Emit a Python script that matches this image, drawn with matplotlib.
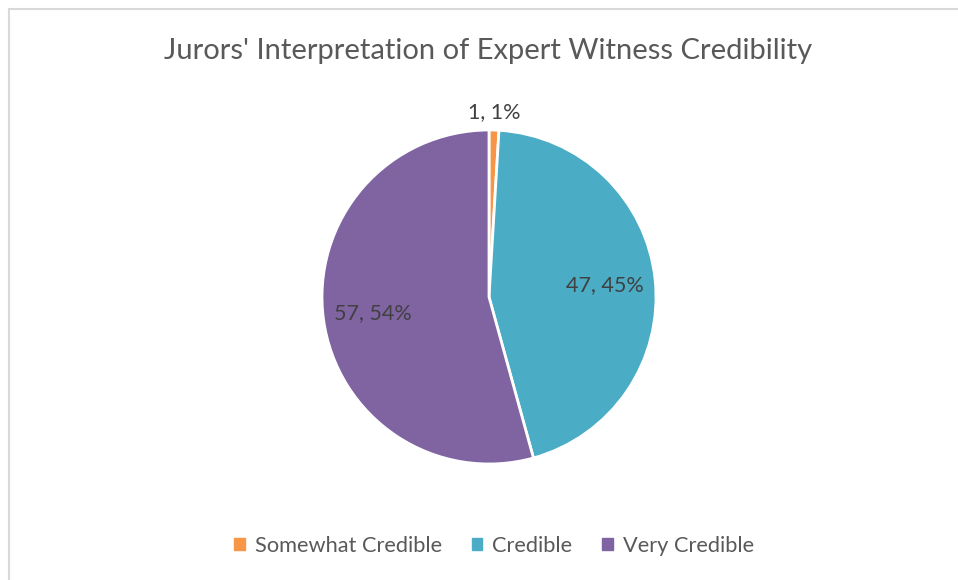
import matplotlib
matplotlib.use("Agg")
import matplotlib.pyplot as plt
import matplotlib.patches as mpatches
import numpy as np

categories = ["Somewhat Credible", "Credible", "Very Credible"]
values = [1, 47, 57]
colors = ["#F79646", "#4BACC6", "#8064A2"]
title = "Jurors' Interpretation of Expert Witness Credibility"

W, H = 958, 580
fig = plt.figure(figsize=(W / 100, H / 100), dpi=100)
ax = fig.add_axes([0, 0, 1, 1])

# chart border
border = mpatches.Rectangle((9, -20), W + 20, H - 9 + 20, fill=False,
                            edgecolor="#D9D9D9", linewidth=1.5)
ax.add_patch(border)

cx, cy, r = 489, H - 297, 167
wedges, _ = ax.pie(values, colors=colors, startangle=90, counterclock=False,
                   center=(cx, cy), radius=r, frame=True,
                   wedgeprops=dict(edgecolor="white", linewidth=2))
ax.set_xlim(0, W)
ax.set_ylim(0, H)
ax.set_aspect("equal")
ax.axis("off")

font = "Lato"
total = sum(values)
for w, v in zip(wedges, values):
    mid = np.deg2rad((w.theta1 + w.theta2) / 2)
    pct = round(100 * v / total)
    dist = 1.11 if v / total < 0.05 else 0.70
    ax.text(cx + dist * r * np.cos(mid), cy + dist * r * np.sin(mid),
            f"{v}, {pct}%", ha="center", va="center", fontsize=15.5,
            color="#404040", family=font)

fig.text(488 / W, 1 - 51 / H, title, ha="center", va="center",
         fontsize=21, color="#595959", family=font)

handles = [mpatches.Patch(color=c, label=l) for c, l in zip(colors, categories)]
leg = fig.legend(handles=handles, loc="center", ncol=3,
                 bbox_to_anchor=(494 / W, 1 - 546 / H), frameon=False,
                 prop=dict(family=font, size=15.7), handlelength=0.5,
                 handleheight=0.5, handletextpad=0.45, columnspacing=1.35,
                 labelcolor="#595959")

fig.savefig("out.png", dpi=100, facecolor="white")
